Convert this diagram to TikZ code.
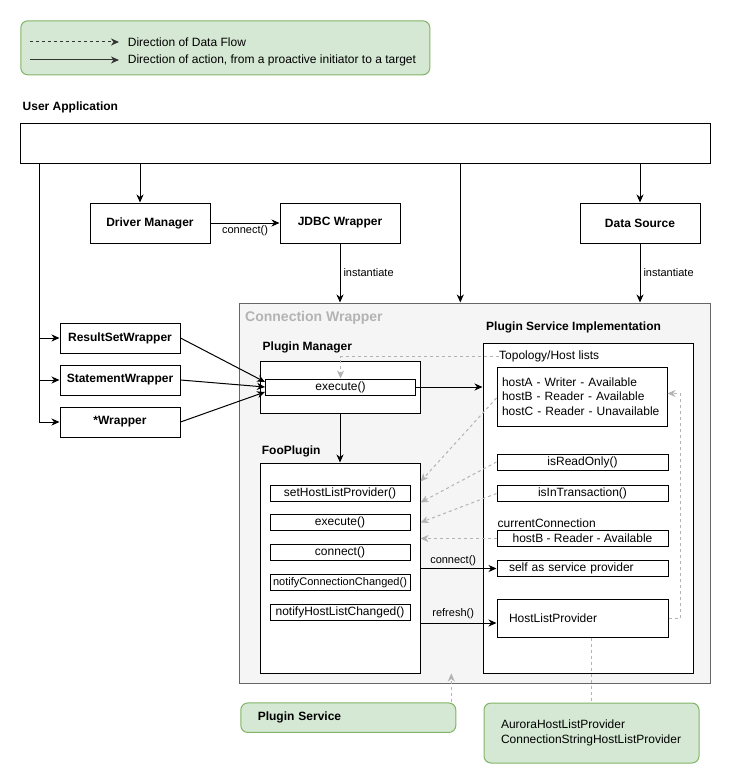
\documentclass[tikz,border=0pt]{standalone}
\usepackage{fontspec}
\setmainfont{Liberation Sans}
\usetikzlibrary{arrows.meta,calc}

\definecolor{notegreen}{HTML}{D5E8D4}
\definecolor{noteedge}{HTML}{82B366}
\definecolor{wrapfill}{HTML}{F5F5F5}
\definecolor{wrapedge}{HTML}{666666}
\definecolor{flowgray}{HTML}{B3B3B3}

\newcommand{\nfont}{\fontsize{12}{14.5}\selectfont}
\newcommand{\sfont}{\fontsize{11}{13}\selectfont}

\tikzstyle{box}=[draw, fill=white, line width=1pt, inner xsep=2pt, inner ysep=1.5pt]
\tikzstyle{bbox}=[box, font=\nfont\bfseries]
\tikzstyle{method}=[box, minimum width=140, minimum height=16]
\tikzstyle{svcbox}=[box, minimum width=171, minimum height=16]
\tikzstyle{leftbox}=[svcbox, text width=147, align=left, inner xsep=12pt]
\tikzstyle{note}=[draw=noteedge, fill=notegreen, line width=1pt, rounded corners=7pt]
\tikzstyle{title}=[font=\nfont\bfseries, anchor=west, inner sep=0pt]
\tikzstyle{plain}=[anchor=west, inner sep=0pt]
\tikzstyle{lbl}=[font=\sfont, inner sep=2pt]
\tikzstyle{act}=[-{Stealth[length=8pt, width=7pt, inset=2.5pt]}, line width=1pt]
\tikzstyle{flowline}=[line width=1pt, draw=flowgray, dash pattern=on 3pt off 3pt]
\tikzstyle{flow}=[flowline, -{Stealth[length=8pt, width=7pt, inset=2.5pt]}]

\begin{document}
\begin{tikzpicture}[x=1pt, y=-1pt, font=\nfont]
  \useasboundingbox (0,0) rectangle (731,784);

  % legend
  \node[note, minimum width=409, minimum height=54] (legend) at (225.3,47.8) {};
  \coordinate (flowa) at (30,42);
  \coordinate (flowb) at (119,42);
  \coordinate (acta) at (30,60);
  \coordinate (actb) at (119,60);
  \draw[flowline, draw=black!80, -{Stealth[length=8pt, width=7pt, inset=2.5pt]}] (flowa) -- (flowb);
  \draw[act, draw=black!80] (acta) -- (actb);
  \node[plain] (flowtxt) at (127.7,42) {Direction of Data Flow};
  \node[plain] (acttxt) at (127.7,60) {Direction of action, from a proactive initiator to a target};

  % user application
  \node[title] (ualabel) at (22.5,107) {User Application};
  \node[box, minimum width=690, minimum height=40] (ua) at (365,143) {};
  \coordinate (spine) at ([xshift=20pt]ua.south west);

  \node[bbox, minimum width=120, minimum height=40] (driver) at (150,223) {Driver Manager};
  \node[bbox, minimum width=120, minimum height=40] (jdbc) at (340,223) {JDBC Wrapper};
  \node[bbox, minimum width=120, minimum height=40] (ds) at (640,223) {Data Source};

  \node[bbox, minimum width=120, minimum height=30] (rs) at (120,338) {ResultSetWrapper};
  \node[bbox, minimum width=120, minimum height=30] (st) at (120,380) {StatementWrapper};
  \node[bbox, minimum width=120, minimum height=30] (star) at (120,422) {*Wrapper};

  % connection wrapper
  \node[draw=wrapedge, fill=wrapfill, line width=1pt, minimum width=470.7, minimum height=380] (cw) at (475.3,493) {};
  \node[title, font=\fontsize{14}{16}\selectfont\bfseries, text=flowgray] (cwlabel) at (245,318.3) {Connection Wrapper};

  \node[title] (pmlabel) at (262.5,347.7) {Plugin Manager};
  \node[box, minimum width=160, minimum height=52] (pm) at (340,387) {};
  \node[box, minimum width=150, minimum height=16] (exec) at (340.5,387) {execute()};

  \node[title] (foolabel) at (261.7,451.7) {FooPlugin};
  \node[box, minimum width=160, minimum height=210] (foo) at (340,568) {};
  \foreach \m/\y [count=\i] in {setHostListProvider()/493, execute()/522.5, connect()/552,
      {\sfont notifyConnectionChanged()}/582.5, notifyHostListChanged()/612} {%
    \node[method] (m\i) at (340,\y) {\m};
  }

  \node[title] (psilabel) at (486,327.7) {Plugin Service Implementation};
  \node[box, minimum width=210, minimum height=330] (psi) at (588,508) {};
  \node[plain] (topo) at (499,356.7) {Topology/Host lists};
  \node[box, minimum width=170, minimum height=59, text width=160, align=left, inner sep=5pt] (hosts) at (582,396.5)
    {hostA - Writer - Available\\hostB - Reader - Available\\hostC - Reader - Unavailable};
  \node[svcbox] (isro) at (582.5,462) {isReadOnly()};
  \node[svcbox] (isit) at (582.5,493.5) {isInTransaction()};
  \node[plain] (cclabel) at (497.5,523) {currentConnection};
  \node[svcbox] (cc) at (582.5,538.5) {hostB - Reader - Available};
  \node[leftbox] (ssp) at (582.5,568.5) {self as service provider};
  \node[leftbox, minimum height=38] (hlp) at (582.5,618) {HostListProvider};

  % green notes
  \node[note, minimum width=215, minimum height=29.5, text width=181, inner xsep=17pt, align=left,
    font=\nfont\bfseries] (ps) at (348.3,717.7) {Plugin Service};
  \node[note, minimum width=215, minimum height=60, text width=181, inner xsep=17pt, align=left,
    font=\fontsize{12}{15}\selectfont] (aurora) at (591.5,733)
    {AuroraHostListProvider\\ConnectionStringHostListProvider};

  % actions
  \draw[act] ($(driver.north |- ua.south)+(-10,0)$) -- ($(driver.north)+(-10,0)$);
  \draw[act] (driver.east) -- node[lbl, below] {connect()} (jdbc.west);
  \draw[act] (ds.north |- ua.south) -- (ds.north);
  \draw[act] ($(cw.north |- ua.south)+(-15,0)$) -- ($(cw.north)+(-15,0)$);
  \draw[act] (jdbc.south) -- node[lbl, right=1pt] {instantiate} (jdbc.south |- cw.north);
  \draw[act] (ds.south) -- node[lbl, right=1pt] {instantiate} (ds.south |- cw.north);

  \draw[act] (spine) |- (star.west);
  \draw[act] (spine |- rs.west) -- (rs.west);
  \draw[act] (spine |- st.west) -- (st.west);

  \draw[act] (rs.east) -- ([yshift=5pt]exec.west);
  \draw[act] (st.east) -- (exec.west);
  \draw[act] (star.east) -- ([yshift=-5pt]exec.west);

  \draw[act] (exec.east) -- (exec.east -| psi.west);
  \draw[act] (pm.south) -- (foo.north);
  \draw[act] (ssp.west -| foo.east) -- node[lbl, above, pos=0.43] {connect()} (ssp.west);
  \draw[act] ([yshift=-5pt]hlp.west -| foo.east) -- node[lbl, above, pos=0.43, yshift=2pt] {refresh()} ([yshift=-5pt]hlp.west);

  % data flow
  \draw[flow] (topo.west) -| (exec.north);
  \draw[flow] ([yshift=-1.5pt]hosts.west) -- ([yshift=-19pt]foo.north east);
  \draw[flow] (isro.west) -- ([yshift=-40pt]foo.north east);
  \draw[flow] (isit.west) -- ([yshift=-60pt]foo.north east);
  \draw[flow] (cc.west) -- (cc.west -| foo.east);
  \draw[flow] (hlp.east) -- ++(12,0) |- ([yshift=3pt]hosts.east);
  \draw[flow] ($(ps.north east)+(-5,0)$) -- ($(ps.north east)+(-5,-29)$);
  \draw[flowline] (aurora.north |- hlp.south) -- (aurora.north);
\end{tikzpicture}
\end{document}
